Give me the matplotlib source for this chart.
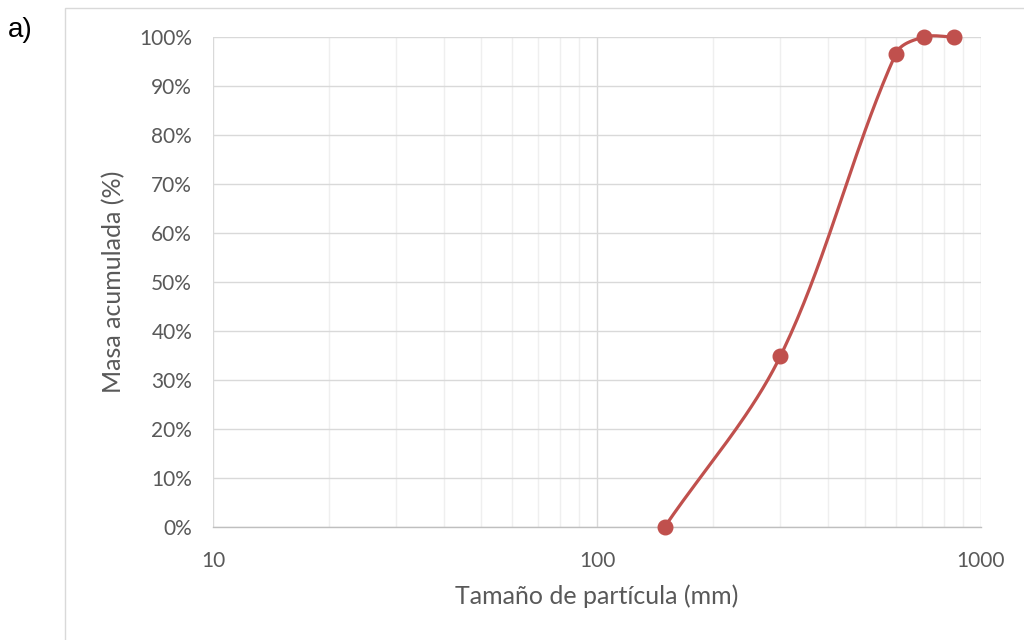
import numpy as np
import matplotlib
matplotlib.use("Agg")
import matplotlib.pyplot as plt
from matplotlib.ticker import FixedLocator, FuncFormatter, NullFormatter
from matplotlib.patches import Rectangle

# datos
tamano_mm = [150, 300, 600, 710, 850]
masa_acum = [0.0, 0.348, 0.966, 1.0, 1.0]

color_linea = "#C0504D"
gris_texto = "#595959"


def curva_suave(xs, ys, n=40):
    # curva suavizada tipo Excel: bezier con tangentes limitadas por el largo del tramo
    px = np.log10(xs) * 384.0
    py = np.array(ys) * 490.0
    P = np.column_stack([px, py])
    N = len(P)
    D = []
    for i in range(N):
        a = P[max(i - 1, 0)]
        b = P[min(i + 1, N - 1)]
        v = b - a
        D.append(v / np.linalg.norm(v))
    out = []
    for i in range(N - 1):
        p1, p2 = P[i], P[i + 1]
        L = np.linalg.norm(p2 - p1)
        c1 = p1 + D[i] * L / 3.0
        c2 = p2 - D[i + 1] * L / 3.0
        t = np.linspace(0, 1, n)[:, None]
        seg = ((1 - t) ** 3) * p1 + 3 * ((1 - t) ** 2) * t * c1 + 3 * (1 - t) * t ** 2 * c2 + t ** 3 * p2
        out.append(seg if i == 0 else seg[1:])
    out = np.vstack(out)
    return 10 ** (out[:, 0] / 384.0), out[:, 1] / 490.0


plt.rcParams['font.family'] = ['Lato', 'DejaVu Sans']

fig = plt.figure(figsize=(10.24, 6.4), dpi=100)
ax = fig.add_axes([213 / 1024, 1 - 527 / 640, 768 / 1024, 490 / 640])

# marco del area del grafico
fig.patches.append(Rectangle((65 / 1024, -0.1), 1.2, 1.1 - 8 / 640, transform=fig.transFigure,
                             fill=False, edgecolor="#d9d9d9", linewidth=1.0))

ax.set_xscale("log")
ax.set_xlim(10, 1000)
ax.set_ylim(0, 1.0)

ax.xaxis.set_major_locator(FixedLocator([10, 100, 1000]))
ax.xaxis.set_minor_locator(FixedLocator([m * d for d in (10, 100) for m in range(2, 10)]))
ax.xaxis.set_major_formatter(FuncFormatter(lambda v, p: "%d" % v))
ax.xaxis.set_minor_formatter(NullFormatter())
ax.set_yticks(np.arange(0, 1.01, 0.1))
ax.yaxis.set_major_formatter(FuncFormatter(lambda v, p: "%d%%" % round(v * 100)))

ax.grid(which="major", axis="both", color="#d9d9d9", linewidth=1.0)
ax.grid(which="minor", axis="x", color="#efefef", linewidth=1.0)
ax.set_axisbelow(True)

for s in ["top", "right", "left"]:
    ax.spines[s].set_visible(False)
ax.spines["bottom"].set_color("#bfbfbf")
ax.spines["bottom"].set_linewidth(1.0)

ax.tick_params(which="both", length=0, colors=gris_texto, labelsize=15)
ax.tick_params(axis="x", pad=17)
ax.tick_params(axis="y", pad=15)

xs, ys = curva_suave(tamano_mm, masa_acum)
ax.plot(xs, ys, color=color_linea, linewidth=2.3, solid_capstyle="round", clip_on=False)
ax.plot(tamano_mm, masa_acum, "o", color=color_linea, markersize=10.5, clip_on=False, zorder=5)

ax.set_xlabel("Tamaño de partícula (mm)", fontsize=18, color=gris_texto, labelpad=10)
ax.set_ylabel("Masa acumulada (%)", fontsize=18, color=gris_texto, labelpad=10)

fig.text(8 / 1024, 1 - 30 / 640, "a)", fontsize=20, family="Liberation Sans", color="black",
         va="center", ha="left")

fig.savefig("out.png", dpi=100)
